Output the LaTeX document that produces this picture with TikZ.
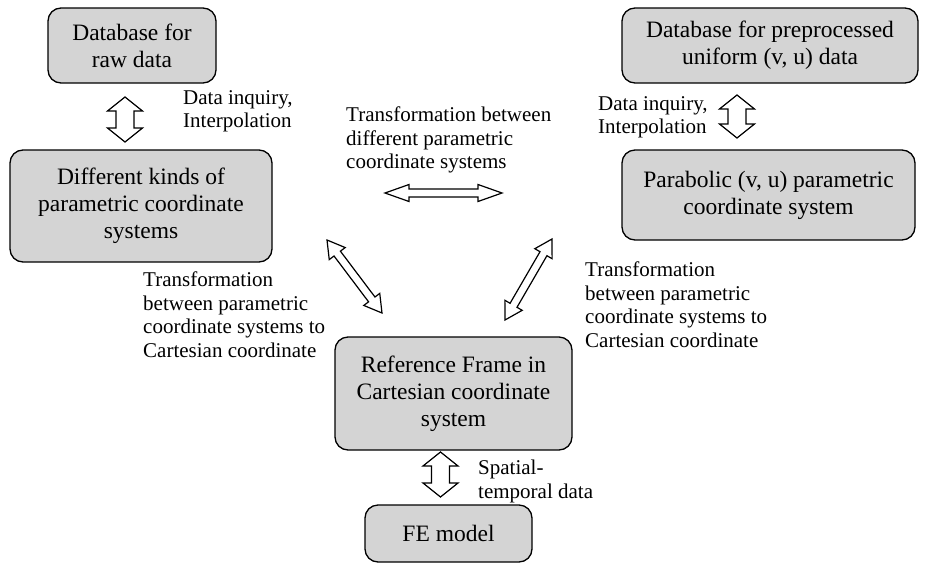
\documentclass[tikz,border=0pt]{standalone}
\usepackage{fontspec}
\setmainfont{Liberation Serif}
\usetikzlibrary{calc}
\definecolor{boxgray}{RGB}{212,212,212}
\tikzset{
  box/.style={draw=black, line width=1.3pt, fill=boxgray, rounded corners=13pt,
    align=center, inner sep=2pt, font=\fontsize{23.5}{27}\selectfont},
  lab/.style={anchor=north west, inner sep=0pt, align=left,
    font=\fontsize{21}{23.5}\selectfont},
  arrowline/.style={draw=black, line width=1.2pt, fill=white, line join=miter}
}
\newcommand\blockarrow[5]{%
  \coordinate (#1#2ba) at ($(#1)!#5!(#2)$);
  \coordinate (#1#2bb) at ($(#2)!#5!(#1)$);
  \draw[arrowline] (#1) -- ($(#1#2ba)!#4!90:(#2)$) -- ($(#1#2ba)!#3!90:(#2)$)
    -- ($(#1#2bb)!#3!-90:(#1)$) -- ($(#1#2bb)!#4!-90:(#1)$) -- (#2)
    -- ($(#1#2bb)!#4!90:(#1)$) -- ($(#1#2bb)!#3!90:(#1)$)
    -- ($(#1#2ba)!#3!-90:(#2)$) -- ($(#1#2ba)!#4!-90:(#2)$) -- cycle;
}
\begin{document}
\begin{tikzpicture}[x=1pt,y=-1pt]
\useasboundingbox (0,0) rectangle (930,563);
% boxes
\node[box, minimum width=168pt, minimum height=75pt] (raw) at (132,45.5) {Database for\\raw data};
\node[box, minimum width=262pt, minimum height=112pt] (diff) at (141,206) {Different kinds of\\parametric coordinate\\systems};
\node[box, minimum width=296pt, minimum height=75pt] (pre) at (770,45.5) {Database for preprocessed\\uniform (v, u) data};
\node[box, minimum width=293pt, minimum height=90pt] (para) at (768.5,195) {Parabolic (v, u) parametric\\coordinate system};
\node[box, minimum width=237pt, minimum height=113pt] (ref) at (453.5,393.5) {Reference Frame in\\Cartesian coordinate\\system};
\node[box, minimum width=167pt, minimum height=57pt] (fe) at (448.5,533.5) {FE model};
% labels
\node[lab] (l1) at (183,90) {Data inquiry,\\Interpolation};
\node[lab] (l2) at (598,96) {Data inquiry,\\Interpolation};
\node[lab] (l3) at (346,107) {Transformation between\\different parametric\\coordinate systems};
\node[lab] (l4) at (143,272) {Transformation\\between parametric\\coordinate systems to\\Cartesian coordinate};
\node[lab] (l5) at (585,262) {Transformation\\between parametric\\coordinate systems to\\Cartesian coordinate};
\node[lab] (l6) at (478,460) {Spatial-\\temporal data};
% arrow end points
\coordinate (v1a) at (125,97);   \coordinate (v1b) at (125,142);
\coordinate (v2a) at (737,95);   \coordinate (v2b) at (737,138);
\coordinate (v3a) at (440.5,452); \coordinate (v3b) at (440.5,497);
\coordinate (h1a) at (385,193);  \coordinate (h1b) at (502,193);
\coordinate (d1a) at (327,240);  \coordinate (d1b) at (382,313);
\coordinate (d2a) at (552,239);  \coordinate (d2b) at (505,320);
\blockarrow{v1a}{v1b}{9pt}{17.5pt}{14pt}
\blockarrow{v2a}{v2b}{9pt}{17.5pt}{14pt}
\blockarrow{v3a}{v3b}{9pt}{17.5pt}{14pt}
\blockarrow{h1a}{h1b}{4pt}{8.5pt}{24pt}
\blockarrow{d1a}{d1b}{4pt}{10pt}{17pt}
\blockarrow{d2a}{d2b}{4pt}{10pt}{17pt}
\end{tikzpicture}
\end{document}
